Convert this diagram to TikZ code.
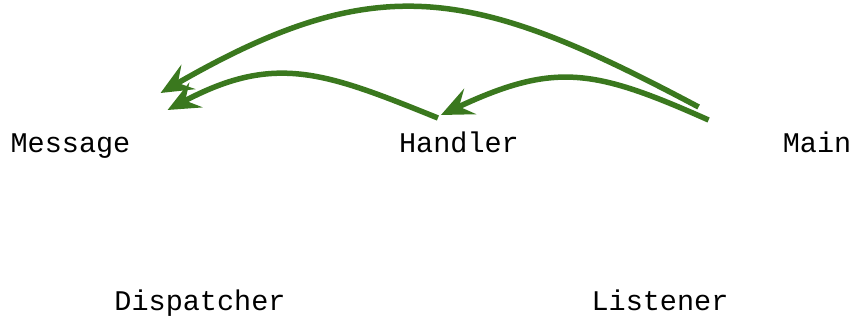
\documentclass[tikz,border=0pt]{standalone}
\usepackage{fontspec}
\usepackage{tikz}
\usetikzlibrary{arrows.meta}
\newfontfamily\classfont{Liberation Mono}
\definecolor{callgreen}{RGB}{58,120,30}
\tikzstyle{classname} = [font=\classfont\fontsize{28.5}{34}\selectfont, inner sep=0pt, anchor=base]
\tikzstyle{calls} = [draw=callgreen, line width=5.5pt, -{Stealth[length=32pt, width=28pt, inset=12pt]}]

\begin{document}
\begin{tikzpicture}[x=1pt, y=-1pt]
\useasboundingbox (0,0) rectangle (855,320);
\node [classname] (message) at (70.5,153) {Message};
\node [classname] (handler) at (459,153) {Handler};
\node [classname] (mainnode) at (817,153) {Main};
\node [classname] (dispatcher) at (200,311) {Dispatcher};
\node [classname] (listener) at (660,311) {Listener};
% calls between the classes
\draw [calls] ([xshift=-84pt, yshift=46pt]mainnode.base west)
    to[out=152, in=30, looseness=1.2] ([xshift=30pt, yshift=60pt]message.base east);
\draw [calls] ([xshift=-74pt, yshift=33pt]mainnode.base west)
    to[out=156, in=25, looseness=1.2] ([xshift=42pt, yshift=38pt]handler.base west);
\draw [calls] ([xshift=39pt, yshift=35pt]handler.base west)
    to[out=158, in=28, looseness=1.15] ([xshift=37pt, yshift=43pt]message.base east);
\end{tikzpicture}
\end{document}
